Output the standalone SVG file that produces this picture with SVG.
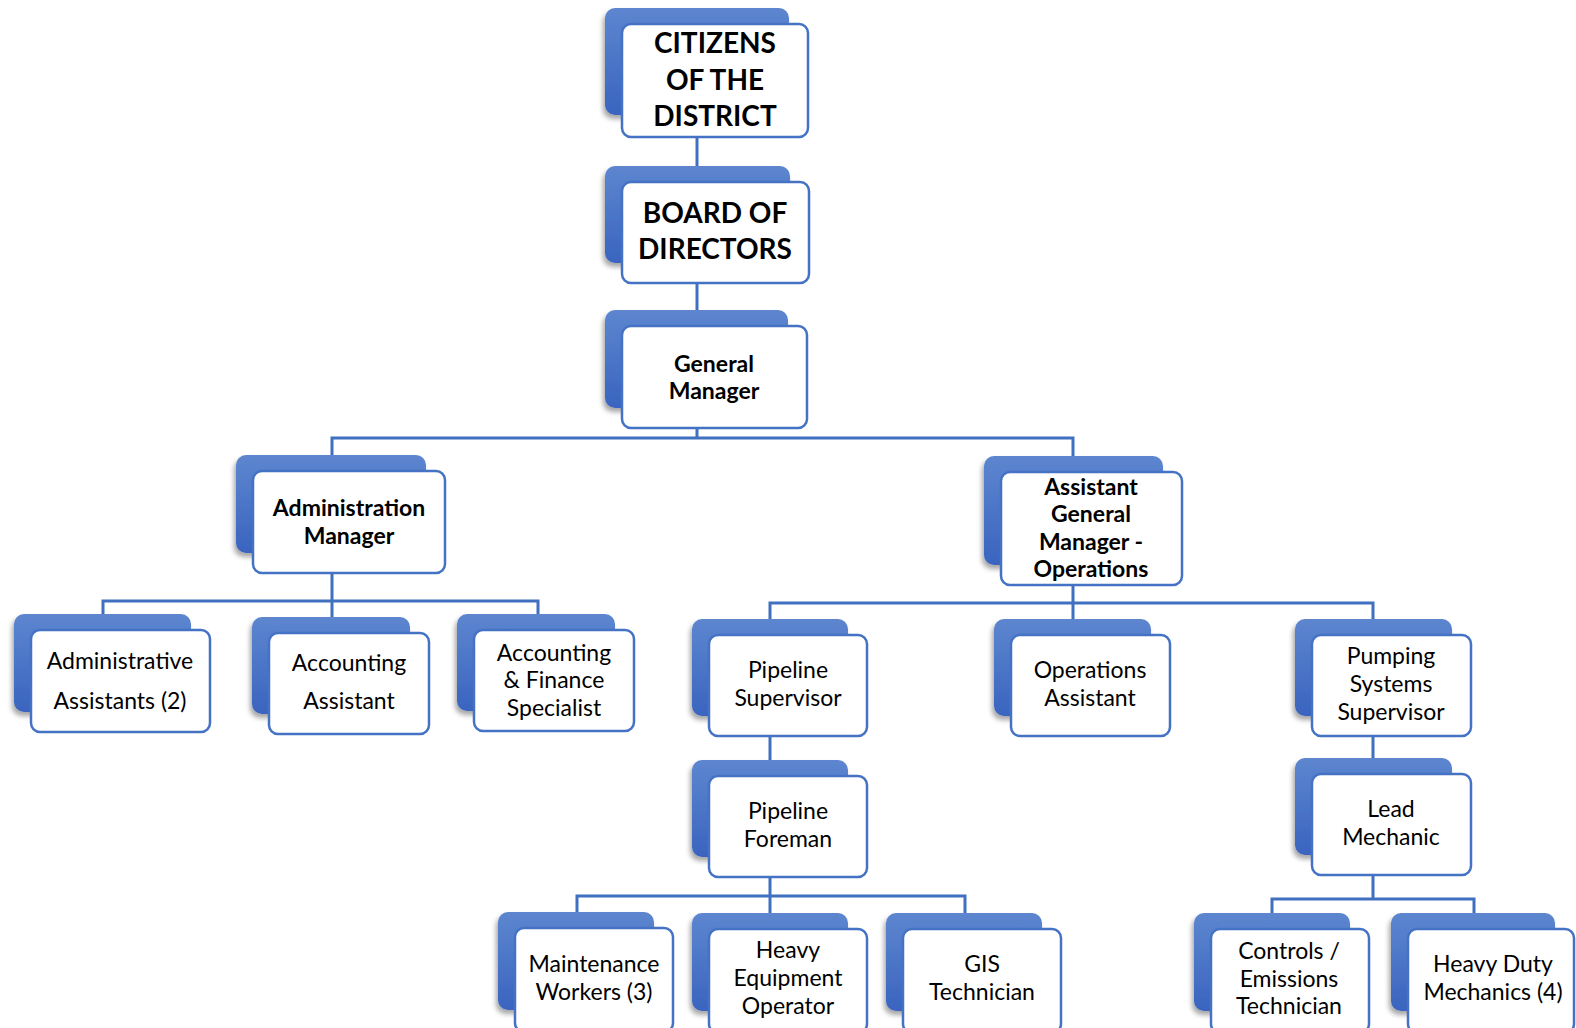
<svg xmlns="http://www.w3.org/2000/svg" width="1576" height="1028" viewBox="0 0 1576 1028">
<defs>
<linearGradient id="bg" x1="0" y1="0" x2="0" y2="1">
<stop offset="0" stop-color="#5d86cf"/>
<stop offset="1" stop-color="#3a64bf"/>
</linearGradient>
<filter id="sh" x="-20%" y="-20%" width="140%" height="150%">
<feDropShadow dx="-2" dy="4" stdDeviation="2.5" flood-color="#000" flood-opacity="0.35"/>
</filter>
</defs>
<style>
.back{fill:url(#bg);filter:url(#sh)}
.front{fill:#fff;stroke:#4472c4;stroke-width:2.5}
.t{font-family:Lato,"Open Sans","Liberation Sans",sans-serif;font-size:23px;fill:#000;text-anchor:middle}
.b{font-weight:bold}
.big{font-size:28px;font-weight:bold}
.conn path{fill:none;stroke:#4070c0;stroke-width:3}
</style>
<rect width="1576" height="1028" fill="#fff"/>
<g class="conn">
<path d="M697 137V166"/>
<path d="M697 283V310"/>
<path d="M697 428V438M332 455V438H1073V456"/>
<path d="M332 573V601M103 614V601H538V614M332 601V617"/>
<path d="M1073 585V603M770 619V603H1373V619M1073 603V619"/>
<path d="M770 736V760"/>
<path d="M770 877V896M577 912V896H965V913M770 896V913"/>
<path d="M1373 736V758"/>
<path d="M1373 875V899M1272 913V899H1474V913"/>
</g>
<g id="citizens">
<rect class="back" x="605" y="8" width="184" height="107" rx="10"/>
<rect class="front" x="622" y="24" width="186" height="113" rx="9"/>
<text class="t big" x="715" y="53">CITIZENS</text>
<text class="t big" x="715" y="89.5">OF THE</text>
<text class="t big" x="715" y="126">DISTRICT</text>
</g>
<g id="board">
<rect class="back" x="605" y="166" width="185" height="97" rx="10"/>
<rect class="front" x="622" y="182" width="187" height="101" rx="9"/>
<text class="t big" x="715" y="223">BOARD OF</text>
<text class="t big" x="715" y="259">DIRECTORS</text>
</g>
<g id="gm">
<rect class="back" x="605" y="310" width="183" height="98" rx="10"/>
<rect class="front" x="622" y="326" width="185" height="102" rx="9"/>
<text class="t b" x="714" y="372">General</text>
<text class="t b" x="714" y="399">Manager</text>
</g>
<g id="admin-manager">
<rect class="back" x="236" y="455" width="190" height="98" rx="10"/>
<rect class="front" x="253" y="471" width="192" height="102" rx="9"/>
<text class="t b" x="349" y="516">Administration</text>
<text class="t b" x="349" y="544">Manager</text>
</g>
<g id="agm">
<rect class="back" x="984" y="456" width="179" height="109" rx="10"/>
<rect class="front" x="1001" y="472" width="181" height="113" rx="9"/>
<text class="t b" x="1091" y="495">Assistant</text>
<text class="t b" x="1091" y="522">General</text>
<text class="t b" x="1091" y="550">Manager -</text>
<text class="t b" x="1091" y="577">Operations</text>
</g>
<g id="admin-assistants">
<rect class="back" x="14" y="614" width="177" height="98" rx="10"/>
<rect class="front" x="31" y="630" width="179" height="102" rx="9"/>
<text class="t" x="120" y="669">Administrative</text>
<text class="t" x="120" y="709">Assistants (2)</text>
</g>
<g id="accounting-assistant">
<rect class="back" x="252" y="617" width="158" height="97" rx="10"/>
<rect class="front" x="269" y="633" width="160" height="101" rx="9"/>
<text class="t" x="349" y="671">Accounting</text>
<text class="t" x="349" y="709">Assistant</text>
</g>
<g id="accounting-finance">
<rect class="back" x="457" y="614" width="158" height="97" rx="10"/>
<rect class="front" x="474" y="630" width="160" height="101" rx="9"/>
<text class="t" x="554" y="661">Accounting</text>
<text class="t" x="554" y="688">&amp; Finance</text>
<text class="t" x="554" y="716">Specialist</text>
</g>
<g id="pipeline-supervisor">
<rect class="back" x="692" y="619" width="156" height="97" rx="10"/>
<rect class="front" x="709" y="635" width="158" height="101" rx="9"/>
<text class="t" x="788" y="678">Pipeline</text>
<text class="t" x="788" y="706">Supervisor</text>
</g>
<g id="operations-assistant">
<rect class="back" x="994" y="619" width="157" height="97" rx="10"/>
<rect class="front" x="1011" y="635" width="159" height="101" rx="9"/>
<text class="t" x="1090" y="678">Operations</text>
<text class="t" x="1090" y="706">Assistant</text>
</g>
<g id="pumping-supervisor">
<rect class="back" x="1295" y="619" width="157" height="97" rx="10"/>
<rect class="front" x="1312" y="635" width="159" height="101" rx="9"/>
<text class="t" x="1391" y="664">Pumping</text>
<text class="t" x="1391" y="692">Systems</text>
<text class="t" x="1391" y="720">Supervisor</text>
</g>
<g id="pipeline-foreman">
<rect class="back" x="692" y="760" width="156" height="97" rx="10"/>
<rect class="front" x="709" y="776" width="158" height="101" rx="9"/>
<text class="t" x="788" y="819">Pipeline</text>
<text class="t" x="788" y="847">Foreman</text>
</g>
<g id="lead-mechanic">
<rect class="back" x="1295" y="758" width="157" height="97" rx="10"/>
<rect class="front" x="1312" y="774" width="159" height="101" rx="9"/>
<text class="t" x="1391" y="817">Lead</text>
<text class="t" x="1391" y="845">Mechanic</text>
</g>
<g id="maintenance-workers">
<rect class="back" x="498" y="912" width="156" height="98" rx="10"/>
<rect class="front" x="515" y="928" width="158" height="104" rx="9"/>
<text class="t" x="594" y="972">Maintenance</text>
<text class="t" x="594" y="1000">Workers (3)</text>
</g>
<g id="heavy-equipment">
<rect class="back" x="692" y="913" width="156" height="98" rx="10"/>
<rect class="front" x="709" y="929" width="158" height="104" rx="9"/>
<text class="t" x="788" y="958">Heavy</text>
<text class="t" x="788" y="986">Equipment</text>
<text class="t" x="788" y="1014">Operator</text>
</g>
<g id="gis-technician">
<rect class="back" x="886" y="913" width="156" height="98" rx="10"/>
<rect class="front" x="903" y="929" width="158" height="104" rx="9"/>
<text class="t" x="982" y="972">GIS</text>
<text class="t" x="982" y="1000">Technician</text>
</g>
<g id="controls-technician">
<rect class="back" x="1194" y="913" width="156" height="98" rx="10"/>
<rect class="front" x="1211" y="929" width="158" height="104" rx="9"/>
<text class="t" x="1289" y="959">Controls /</text>
<text class="t" x="1289" y="987">Emissions</text>
<text class="t" x="1289" y="1014">Technician</text>
</g>
<g id="heavy-duty-mechanics">
<rect class="back" x="1391" y="913" width="164" height="98" rx="10"/>
<rect class="front" x="1408" y="929" width="166" height="104" rx="9"/>
<text class="t" x="1493" y="972">Heavy Duty</text>
<text class="t" x="1493" y="1000">Mechanics (4)</text>
</g>
</svg>
